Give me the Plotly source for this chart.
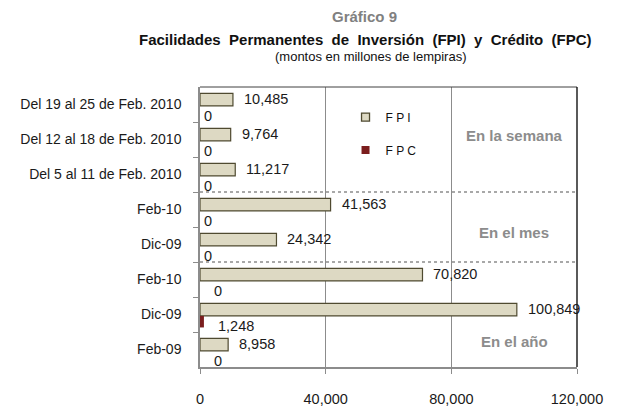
import plotly.graph_objects as go

categories = ["Del 19 al 25 de Feb. 2010", "Del 12 al 18 de Feb. 2010", "Del 5 al 11 de Feb. 2010",
              "Feb-10", "Dic-09", "Feb-10", "Dic-09", "Feb-09"]
fpi = [10485, 9764, 11217, 41563, 24342, 70820, 100849, 8958]
fpc = [0, 0, 0, 0, 0, 0, 1248, 0]
x_ticks = [0, 40000, 80000, 120000]
x_ticktext = ["0", "40,000", "80,000", "120,000"]
section_labels = ["En la semana", "En el mes", "En el año"]

pos = list(range(len(categories)))
FONT = "Liberation Sans, Arial, sans-serif"
W, H = 620, 411
BODY = 8  # default page margin of the html body
L, R, T, B = 183, 51, 79, 45
pw, ph = W - L - R, H - T - B


def paper_x(px):
    return (px - BODY - L) / pw


def paper_y(py):
    return (H - (py - BODY) - B) / ph


fig = go.Figure()
fig.add_trace(go.Bar(
    y=pos, x=fpi, orientation="h", name="F P I", showlegend=False,
    marker=dict(color="#DDD9C3", line=dict(color="#4F4A30", width=1.2)),
    width=0.36, offset=-0.32,
))
fig.add_trace(go.Bar(
    y=pos, x=fpc, orientation="h", name="F P C", showlegend=False,
    marker=dict(color="#7B1E1E", line=dict(color="#7B1E1E", width=0)),
    width=0.33, offset=0.04,
))
# legend entries (small square keys as in the original)
fig.add_trace(go.Scatter(x=[None], y=[None], mode="markers", name="F P I", legendgroup="a",
                         marker=dict(symbol="square", size=8, color="#DDD9C3",
                                     line=dict(color="#4F4A30", width=1.3))))
fig.add_trace(go.Scatter(x=[None], y=[None], mode="markers", name="F P C", legendgroup="b",
                         marker=dict(symbol="square", size=8, color="#7B1E1E",
                                     line=dict(color="#7B1E1E", width=0))))


def fmt(v):
    return f"{v:,}"


annotations = []
for i, v in enumerate(fpi):
    annotations.append(dict(x=v, y=i - 0.15, xref="x", yref="y", text=fmt(v),
                            showarrow=False, xanchor="left", xshift=9,
                            font=dict(family=FONT, size=14.5, color="#1a1a1a")))
for i, v in enumerate(fpc):
    shift = 2 if i < 5 else 12
    annotations.append(dict(x=v, y=i + 0.32, xref="x", yref="y", text=fmt(v),
                            showarrow=False, xanchor="left", xshift=shift,
                            font=dict(family=FONT, size=14.5, color="#1a1a1a")))

# section labels
sec_pos = [(100000, 0.88), (100000, 3.66), (100000, 6.78)]
for (sx, sy), t in zip(sec_pos, section_labels):
    annotations.append(dict(x=sx, y=sy, xref="x", yref="y", text=f"<b>{t}</b>", showarrow=False,
                            xanchor="center", font=dict(family=FONT, size=15, color="#8C8C8C")))

# titles (page pixel positions converted to paper fractions)
sp = "\u00a0"
line2 = f"Facilidades{sp} Permanentes{sp} de{sp} Inversión{sp} (FPI){sp} y{sp} Crédito{sp} (FPC)"
titles = [
    (359, 15, "<b>Gráfico 9</b>", 15, "#808080"),
    (360, 38, f"<b>{line2}</b>", 15, "#111111"),
    (366, 56, "(montos en millones de lempiras)", 13, "#111111"),
]
for tx, ty, txt, size, col in titles:
    annotations.append(dict(x=paper_x(tx), y=paper_y(ty), xref="paper", yref="paper", text=txt,
                            showarrow=False, xanchor="center", yanchor="middle",
                            font=dict(family=FONT, size=size, color=col)))

shapes = []
for yb in [2.5, 4.5]:
    shapes.append(dict(type="line", xref="paper", yref="y", x0=0, x1=1, y0=yb, y1=yb,
                       line=dict(color="#8C8C8C", width=1.5, dash="dot")))
shapes.append(dict(type="line", xref="paper", yref="paper", x0=0, x1=1, y0=1, y1=1,
                   line=dict(color="#404040", width=1)))
shapes.append(dict(type="line", xref="paper", yref="paper", x0=1, x1=1, y0=0, y1=1,
                   line=dict(color="#000000", width=1.3)))

fig.update_layout(
    width=W, height=H,
    margin=dict(l=L, r=R, t=T, b=B),
    paper_bgcolor="white", plot_bgcolor="white",
    barmode="overlay",
    showlegend=True,
    legend=dict(x=paper_x(340), y=paper_y(103), xanchor="left", yanchor="top",
                bgcolor="rgba(0,0,0,0)",
                font=dict(family=FONT, size=12, color="#111111"), tracegroupgap=14,
                itemwidth=30),
    font=dict(family=FONT, size=14, color="#1a1a1a"),
    annotations=annotations,
    shapes=shapes,
)
fig.update_xaxes(
    range=[0, 120000], tickvals=x_ticks, ticktext=x_ticktext,
    showgrid=True, gridcolor="#8C8C8C", gridwidth=1,
    showline=True, linecolor="#8C8C8C", linewidth=1.5,
    ticks="outside", ticklen=5, tickcolor="#8C8C8C",
    ticklabelstandoff=13, zeroline=False,
    tickfont=dict(family=FONT, size=14.5, color="#1a1a1a"),
)
fig.update_yaxes(
    range=[7.5, -0.5], tickvals=pos, ticktext=categories,
    showgrid=False, showline=True, linecolor="#8C8C8C", linewidth=1.5,
    ticks="", ticklabelstandoff=14, zeroline=False,
    minor=dict(tickvals=[p + 0.5 for p in pos[:-1]], ticks="outside", ticklen=5,
               tickcolor="#8C8C8C", showgrid=False),
    tickfont=dict(family=FONT, size=14, color="#1a1a1a"),
)

fig.write_html("out.html")
